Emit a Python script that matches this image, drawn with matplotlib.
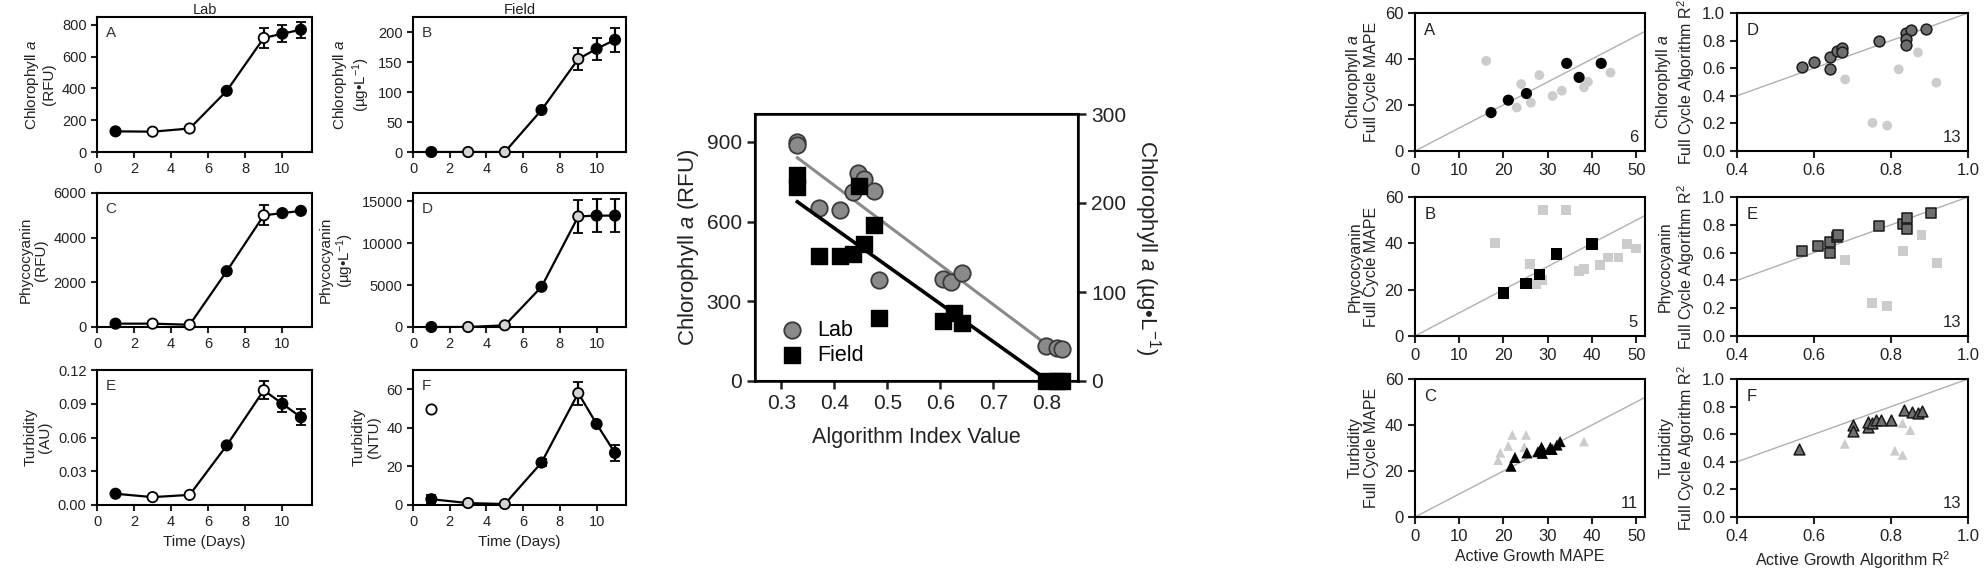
import numpy as np
import matplotlib
matplotlib.use("Agg")
import matplotlib.pyplot as plt

plt.rcParams['font.family'] = ['Liberation Sans', 'DejaVu Sans']
plt.rcParams['mathtext.fontset'] = 'custom'
plt.rcParams['mathtext.rm'] = 'Liberation Sans'
plt.rcParams['mathtext.it'] = 'Liberation Sans:italic'
plt.rcParams['axes.linewidth'] = 1.5
plt.rcParams['xtick.major.width'] = 1.5
plt.rcParams['ytick.major.width'] = 1.5

# ---- time series (left block) ----
days = [1, 3, 5, 7, 9, 10, 11]
filled = [True, False, False, True, False, True, True]

lab_chl = [130, 128, 148, 385, 718, 745, 770]
lab_chl_err = [0, 0, 0, 0, 65, 55, 50]
field_chl = [0, 0, 0, 70, 155, 172, 187]
field_chl_err = [0, 0, 0, 0, 18, 18, 20]
lab_pc = [150, 150, 100, 2500, 5000, 5100, 5200]
lab_pc_err = [0, 0, 0, 0, 450, 0, 0]
field_pc = [0, 0, 200, 4800, 13200, 13300, 13300]
field_pc_err = [0, 0, 0, 0, 2000, 2000, 2000]
lab_turb = [0.010, 0.007, 0.009, 0.053, 0.102, 0.090, 0.078]
lab_turb_err = [0.001, 0, 0, 0.002, 0.008, 0.007, 0.007]
field_turb = [3, 1, 0.5, 22, 58, 42, 27]
field_turb_err = [2, 0, 0, 2, 6, 0, 4]
field_turb_outlier_day = [1]
field_turb_outlier = [50]

# ---- algorithm index (middle) ----
lab_index = [0.33, 0.33, 0.37, 0.41, 0.435, 0.445, 0.455, 0.475, 0.485, 0.605, 0.62, 0.64, 0.80, 0.82, 0.83]
lab_rfu = [900, 890, 650, 645, 712, 784, 762, 715, 380, 384, 371, 406, 131, 125, 120]
field_index = [0.33, 0.33, 0.37, 0.41, 0.435, 0.447, 0.455, 0.475, 0.485, 0.605, 0.625, 0.64, 0.80, 0.82, 0.83]
field_ugl = [231, 218, 141, 141, 143, 219, 154, 175, 71, 67, 76, 65, 0, 0, 0]

# ---- active growth vs full cycle (right block) ----
chl_mape_x = [17.2, 21.1, 25.2, 34.3, 37.1, 42.1]
chl_mape_y = [16.7, 22.1, 25.0, 38.1, 32.0, 38.1]
chl_mape_other_x = [16.1, 24.0, 28.1, 23.0, 26.2, 31.1, 33.2, 38.2, 39.1, 44.2]
chl_mape_other_y = [39.2, 29.1, 33.0, 18.9, 21.0, 23.9, 26.2, 27.7, 30.1, 34.1]

pc_mape_x = [20.0, 25.1, 28.1, 32.0, 40.0]
pc_mape_y = [18.6, 22.7, 26.6, 35.4, 39.7]
pc_mape_other_x = [18.0, 29.0, 34.1, 26.0, 27.3, 28.8, 37.1, 38.2, 41.9, 43.6, 46.0, 48.0, 50.0]
pc_mape_other_y = [40.0, 54.3, 54.3, 31.1, 22.4, 24.1, 28.2, 28.8, 30.6, 33.9, 33.9, 39.7, 37.8]

turb_mape_x = [21.7, 22.6, 25.3, 27.8, 28.6, 28.8, 30.6, 32.1, 32.8, 28.8, 31.0]
turb_mape_y = [22.1, 25.9, 27.9, 28.4, 30.3, 27.7, 30.3, 31.3, 32.8, 29.4, 29.4]
turb_mape_other_x = [19.3, 18.8, 21.1, 22.0, 25.1, 24.7, 38.2]
turb_mape_other_y = [27.9, 24.7, 30.9, 35.7, 35.7, 30.3, 32.8]

chl_r2_x = [0.570, 0.599, 0.641, 0.641, 0.661, 0.673, 0.673, 0.769, 0.840, 0.851, 0.840, 0.840, 0.890]
chl_r2_y = [0.607, 0.646, 0.680, 0.592, 0.728, 0.745, 0.714, 0.794, 0.854, 0.874, 0.811, 0.765, 0.883]
chl_r2_other_x = [0.681, 0.820, 0.870, 0.918, 0.752, 0.790]
chl_r2_other_y = [0.519, 0.592, 0.714, 0.495, 0.204, 0.184]

pc_r2_x = [0.570, 0.610, 0.641, 0.641, 0.661, 0.662, 0.769, 0.831, 0.842, 0.842, 0.903]
pc_r2_y = [0.614, 0.647, 0.599, 0.679, 0.710, 0.727, 0.792, 0.807, 0.848, 0.768, 0.884]
pc_r2_other_x = [0.680, 0.831, 0.879, 0.919, 0.751, 0.790]
pc_r2_other_y = [0.546, 0.614, 0.727, 0.527, 0.237, 0.217]

turb_r2_x = [0.562, 0.700, 0.700, 0.740, 0.740, 0.750, 0.760, 0.775, 0.800, 0.835, 0.855, 0.870, 0.880]
turb_r2_y = [0.49, 0.67, 0.62, 0.65, 0.69, 0.68, 0.70, 0.70, 0.70, 0.776, 0.76, 0.755, 0.77]
turb_r2_other_x = [0.68, 0.81, 0.83, 0.83, 0.85]
turb_r2_other_y = [0.53, 0.48, 0.45, 0.68, 0.63]

W, H = 1985, 587
fig = plt.figure(figsize=(W / 100, H / 100), dpi=100)
TXT = '#222222'


def px_axes(l, r, t, b):
    return fig.add_axes([l / W, 1 - b / H, (r - l) / W, (b - t) / H])


def time_panel(ax, vals, err, open_color, letter, ylabel, ylim, yticks, fmt=None):
    ax.errorbar(days, vals, yerr=err, color='black', lw=1.6, capsize=3.5, capthick=1.3, zorder=2)
    face = ['black' if f else open_color for f in filled]
    ax.scatter(days, vals, s=55, c=face, edgecolors='black', linewidths=1.3, zorder=3, clip_on=False)
    ax.set_xlim(0, 11.6)
    ax.set_xticks([0, 2, 4, 6, 8, 10])
    ax.set_ylim(*ylim)
    ax.set_yticks(yticks)
    if fmt:
        ax.set_yticklabels([fmt.format(v) for v in yticks])
    ax.tick_params(labelsize=10.5, length=4, colors=TXT)
    ax.set_ylabel(ylabel, fontsize=11, color=TXT, linespacing=1.1)
    ax.text(0.04, 0.93, letter, transform=ax.transAxes, fontsize=11, va='top', color='#333333')


axA = px_axes(97, 312, 17, 152)
time_panel(axA, lab_chl, lab_chl_err, 'white', 'A', 'Chlorophyll $\\it{a}$\n(RFU)', (0, 850), [0, 200, 400, 600, 800])
axA.set_title('Lab', fontsize=10.5, color=TXT, pad=1)

axB = px_axes(413, 626, 17, 152)
time_panel(axB, field_chl, field_chl_err, '#d4d4d4', 'B', 'Chlorophyll $\\it{a}$\n(\u00b5g\u2022L$^{-1}$)', (0, 225), [0, 50, 100, 150, 200])
axB.set_title('Field', fontsize=10.5, color=TXT, pad=1)

axC = px_axes(97, 312, 193, 327)
time_panel(axC, lab_pc, lab_pc_err, 'white', 'C', 'Phycocyanin\n(RFU)', (0, 6000), [0, 2000, 4000, 6000])

axD = px_axes(413, 626, 193, 327)
time_panel(axD, field_pc, field_pc_err, '#d4d4d4', 'D', 'Phycocyanin\n(\u00b5g\u2022L$^{-1}$)', (0, 16000), [0, 5000, 10000, 15000])

axE = px_axes(97, 312, 370, 505)
time_panel(axE, lab_turb, lab_turb_err, 'white', 'E', 'Turbidity\n(AU)', (0, 0.12), [0, 0.03, 0.06, 0.09, 0.12], '{:.2f}')
axE.set_xlabel('Time (Days)', fontsize=11, color=TXT)

axF = px_axes(413, 626, 370, 505)
time_panel(axF, field_turb, field_turb_err, '#d4d4d4', 'F', 'Turbidity\n(NTU)', (0, 70), [0, 20, 40, 60])
axF.scatter(field_turb_outlier_day, field_turb_outlier, s=55, c='white', edgecolors='black', linewidths=1.3, zorder=3)
axF.set_xlabel('Time (Days)', fontsize=11, color=TXT)

# ---- middle panel ----
axM = px_axes(755, 1078, 114, 381)
axM2 = axM.twinx()
axM.scatter(lab_index, lab_rfu, s=140, c='#8a8a8a', edgecolors='#3a3a3a', linewidths=1.3, zorder=3, label='Lab')
axM2.scatter(field_index, field_ugl, s=140, marker='s', c='black', zorder=3, clip_on=False)
axM.scatter([], [], s=140, marker='s', c='black', label='Field')

xx = np.linspace(0.33, 0.83, 50)
k1 = np.polyfit(lab_index, lab_rfu, 1)
axM.plot(xx, np.polyval(k1, xx), color='#8a8a8a', lw=2.2, zorder=2)
k2 = np.polyfit(field_index, field_ugl, 1)
axM2.plot(xx, np.polyval(k2, xx), color='black', lw=2.6, zorder=2)

axM.set_xlim(0.25, 0.86)
axM.set_ylim(0, 1005)
axM2.set_ylim(0, 300)
axM.set_xticks([0.3, 0.4, 0.5, 0.6, 0.7, 0.8])
axM.set_yticks([0, 300, 600, 900])
axM2.set_yticks([0, 100, 200, 300])
axM.tick_params(labelsize=15, length=6, width=1.8, colors=TXT)
axM2.tick_params(labelsize=15, length=6, width=1.8, colors=TXT)
for sp in axM2.spines.values():
    sp.set_linewidth(1.8)
axM.set_xlabel('Algorithm Index Value', fontsize=15.5, color=TXT, labelpad=10)
axM.set_ylabel('Chlorophyll $\\it{a}$ (RFU)', fontsize=16, color=TXT)
axM2.set_ylabel('Chlorophyll $\\it{a}$ (\u00b5g\u2022L$^{-1}$)', fontsize=16, color=TXT, rotation=270, labelpad=26)
axM.legend(loc='lower left', fontsize=15.5, frameon=False, handletextpad=0.2, borderaxespad=0.3, labelspacing=0.2)


# ---- right panels ----
def comp_panel(ax, x, y, ox, oy, marker, dark, letter, n, kind):
    if kind == 'mape':
        ax.plot([0, 52], [0, 52], color='#b0b0b0', lw=1, zorder=1)
        ax.set_xlim(0, 52)
        ax.set_ylim(0, 60)
        ax.set_xticks([0, 10, 20, 30, 40, 50])
        ax.set_yticks([0, 20, 40, 60])
    else:
        ax.plot([0.4, 1.0], [0.4, 1.0], color='#b0b0b0', lw=1, zorder=1)
        ax.set_xlim(0.4, 1.0)
        ax.set_ylim(0, 1.0)
        ax.set_xticks([0.4, 0.6, 0.8, 1.0])
        ax.set_yticks([0, 0.2, 0.4, 0.6, 0.8, 1.0])
        ax.set_yticklabels(['0.0', '0.2', '0.4', '0.6', '0.8', '1.0'])
    ax.scatter(ox, oy, s=50, marker=marker, c='#cccccc', edgecolors='none', zorder=2)
    if dark:
        ax.scatter(x, y, s=60, marker=marker, c='#6e6e6e', edgecolors='#1a1a1a', linewidths=1.1, zorder=3)
    else:
        ax.scatter(x, y, s=65, marker=marker, c='black', edgecolors='none', zorder=3)
    ax.tick_params(labelsize=12, length=5, colors=TXT)
    ax.text(0.04, 0.93, letter, transform=ax.transAxes, fontsize=12, va='top', color=TXT)
    ax.text(0.97, 0.04, n, transform=ax.transAxes, fontsize=12, ha='right', va='bottom', color=TXT)


ra = px_axes(1415, 1645, 13, 151)
comp_panel(ra, chl_mape_x, chl_mape_y, chl_mape_other_x, chl_mape_other_y, 'o', False, 'A', '6', 'mape')
ra.set_ylabel('Chlorophyll $\\it{a}$\nFull Cycle MAPE', fontsize=11.5, color=TXT, linespacing=1.1)

rb = px_axes(1415, 1645, 197, 336)
comp_panel(rb, pc_mape_x, pc_mape_y, pc_mape_other_x, pc_mape_other_y, 's', False, 'B', '5', 'mape')
rb.set_ylabel('Phycocyanin\nFull Cycle MAPE', fontsize=11.5, color=TXT, linespacing=1.1)

rc = px_axes(1415, 1645, 379, 517)
comp_panel(rc, turb_mape_x, turb_mape_y, turb_mape_other_x, turb_mape_other_y, '^', False, 'C', '11', 'mape')
rc.set_ylabel('Turbidity\nFull Cycle MAPE', fontsize=11.5, color=TXT, linespacing=1.1)
rc.set_xlabel('Active Growth MAPE', fontsize=11.5, color=TXT)

rd = px_axes(1737, 1968, 13, 151)
comp_panel(rd, chl_r2_x, chl_r2_y, chl_r2_other_x, chl_r2_other_y, 'o', True, 'D', '13', 'r2')
rd.set_ylabel('Chlorophyll $\\it{a}$\nFull Cycle Algorithm R$^2$', fontsize=11.5, color=TXT, linespacing=1.1)

re = px_axes(1737, 1968, 197, 336)
comp_panel(re, pc_r2_x, pc_r2_y, pc_r2_other_x, pc_r2_other_y, 's', True, 'E', '13', 'r2')
re.set_ylabel('Phycocyanin\nFull Cycle Algorithm R$^2$', fontsize=11.5, color=TXT, linespacing=1.1)

rf = px_axes(1737, 1968, 379, 517)
comp_panel(rf, turb_r2_x, turb_r2_y, turb_r2_other_x, turb_r2_other_y, '^', True, 'F', '13', 'r2')
rf.set_ylabel('Turbidity\nFull Cycle Algorithm R$^2$', fontsize=11.5, color=TXT, linespacing=1.1)
rf.set_xlabel('Active Growth Algorithm R$^2$', fontsize=11.5, color=TXT)

fig.savefig('out.png', dpi=100)
